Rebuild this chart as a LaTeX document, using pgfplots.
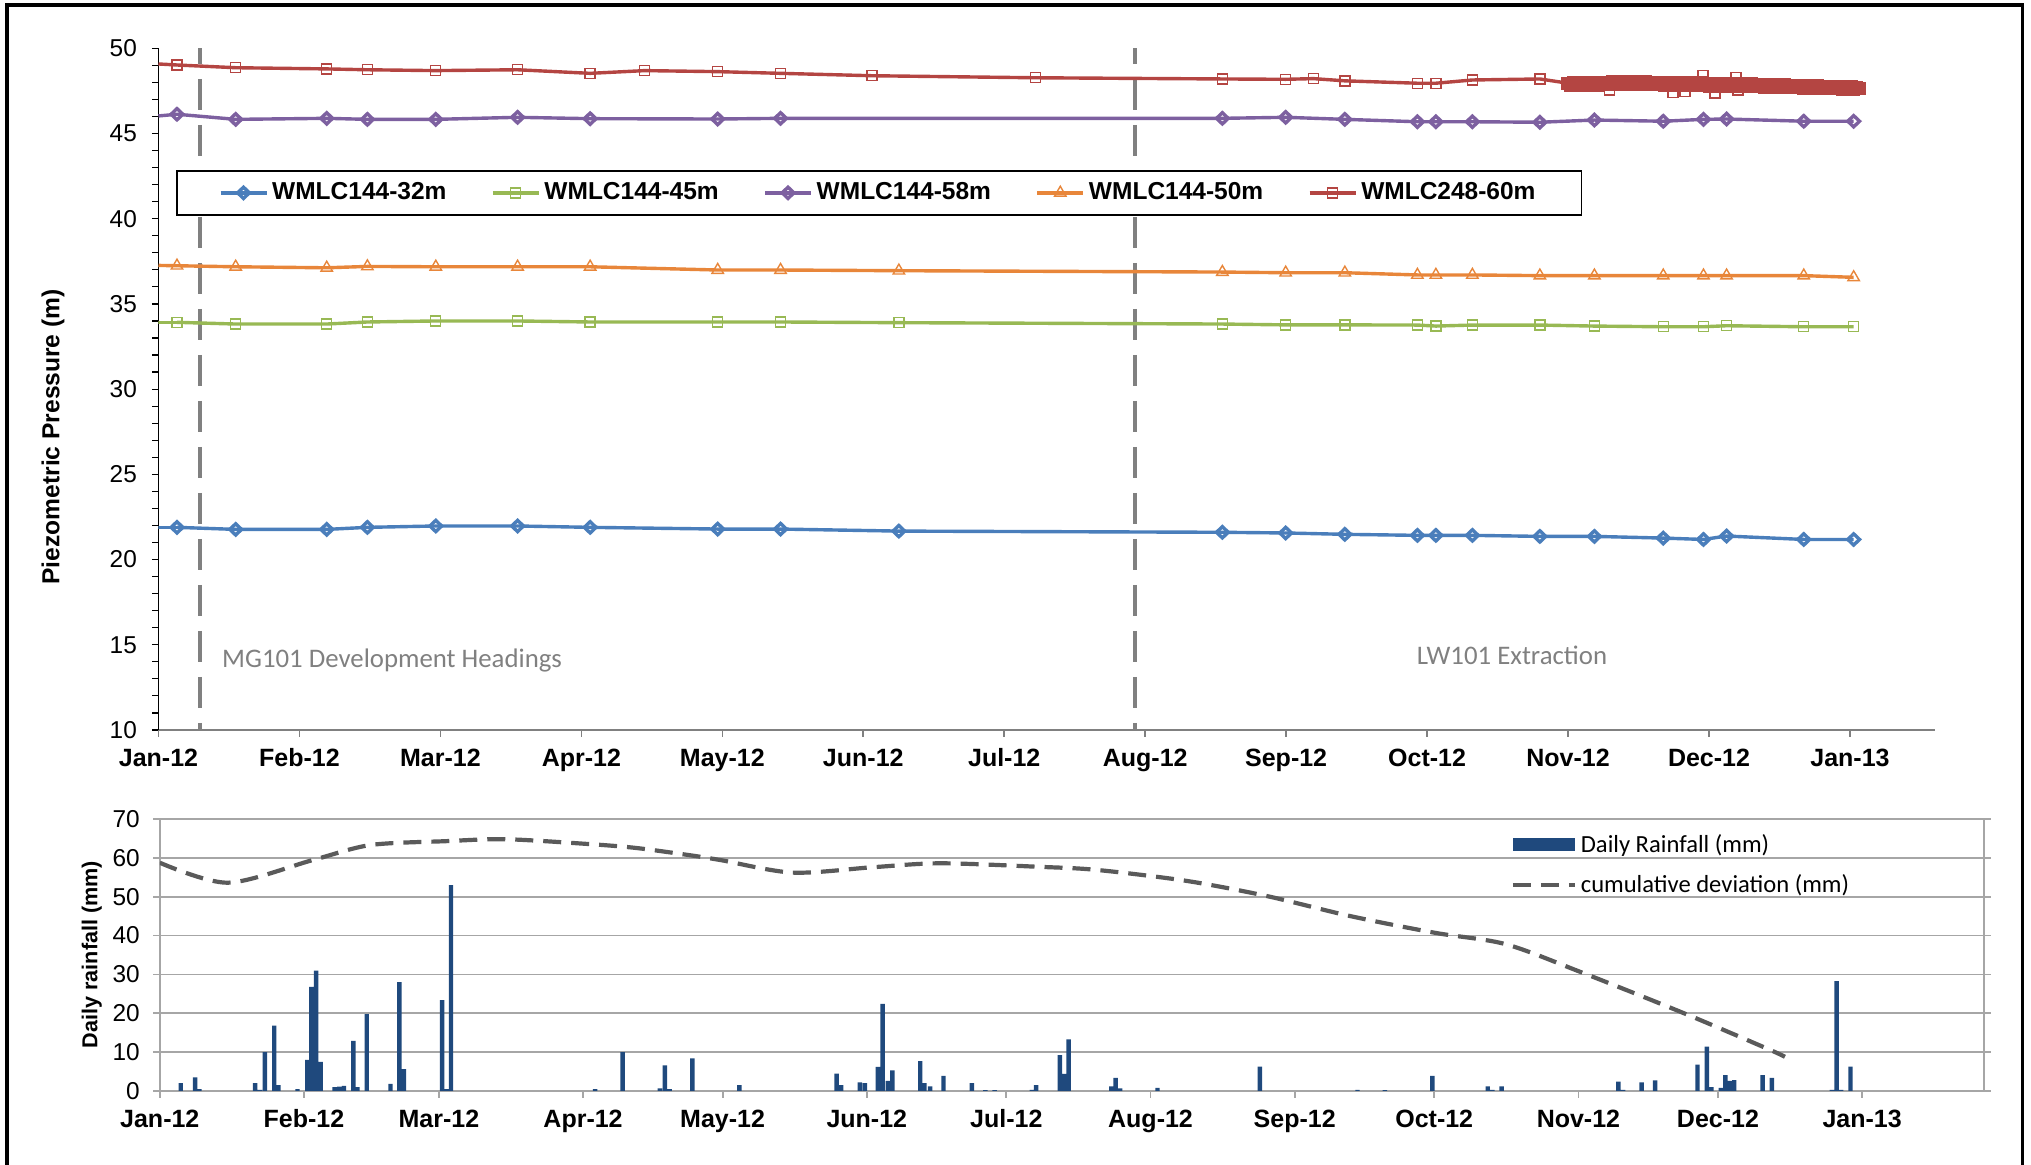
\documentclass[border=0pt]{standalone}
\usepackage{pgfplots}
\pgfplotsset{compat=1.18}
\usepackage{fontspec}
\setmainfont{Liberation Sans}
\newfontfamily\carlito{Carlito}
\definecolor{cblue}{HTML}{4A7EBB}
\definecolor{cgreen}{HTML}{98B954}
\definecolor{cpurple}{HTML}{7D60A0}
\definecolor{corange}{HTML}{E8863A}
\definecolor{cred}{HTML}{B44542}
\definecolor{rain}{HTML}{1F497D}
\definecolor{dev}{HTML}{5A5A5A}
\definecolor{vline}{HTML}{808080}
\definecolor{gridc}{HTML}{A6A6A6}
\definecolor{anno}{HTML}{808080}
\pgfplotsset{
  lineleg/.style={legend image code/.code={\draw[mark repeat=2,mark phase=2] plot coordinates {(0pt,0pt) (11.5pt,0pt) (23pt,0pt)};}},
  ser/.style={line width=1.7pt, mark options={fill=white, solid, line width=0.7pt}, lineleg},
}
\begin{document}
\begin{tikzpicture}
\path[use as bounding box] (0,0) rectangle (1015.5pt,582.5pt);
\draw[line width=1.8pt] (3.35pt,-5pt) -- (3.35pt,580pt) -- (1011.3pt,580pt) -- (1011.3pt,-5pt);
% ---------------- top axis ----------------
\begin{axis}[
  at={(79.25pt,217.5pt)}, anchor=south west,
  scale only axis, width=888.25pt, height=340.85pt,
  xmin=0, xmax=384.4, ymin=10, ymax=50,
  axis x line*=bottom, axis y line*=left,
  x axis line style={draw=gray, line width=1pt},
  y axis line style={draw=black, line width=0.6pt},
  xtick={0,30.5,61,91.5,122,152.5,183,213.5,244,274.5,305,335.5,366},
  xticklabels={Jan-12,Feb-12,Mar-12,Apr-12,May-12,Jun-12,Jul-12,Aug-12,Sep-12,Oct-12,Nov-12,Dec-12,Jan-13},
  ytick={10,15,...,50},
  minor y tick num=4,
  tick align=outside, xtick pos=bottom, ytick pos=left,
  major tick length=3.3pt, minor tick length=3pt,
  x tick style={draw=gray, line width=0.8pt},
  y tick style={draw=black, line width=0.6pt},
  minor y tick style={draw=black, line width=0.6pt},
  /pgf/number format/assume math mode=true,
  yticklabel style={font=\fontsize{12.2}{14}\selectfont, xshift=-4pt},
  xticklabel style={font=\bfseries\fontsize{12.5}{14}\selectfont, yshift=-2.5pt},
  ylabel={Piezometric Pressure (m)},
  ylabel style={at={(axis description cs:-0.0594,0.43)}, anchor=center, font=\bfseries\fontsize{12.3}{14}\selectfont},
  legend columns=5,
  legend cell align=left,
  legend style={at={(rel axis cs:0.00985,0.8215)}, anchor=north west, draw=black, line width=0.8pt,
    font=\bfseries\fontsize{12.25}{14}\selectfont, inner xsep=21pt, inner ysep=4pt,
    nodes={inner sep=2pt},
    /tikz/every even column/.append style={column sep=20.3pt}},
]
% vertical dashed lines
\addplot[forget plot, vline, line width=2pt, dash pattern=on 15.5pt off 7.5pt, dash phase=7.7pt] coordinates {(8.9,50) (8.9,10)};
\addplot[forget plot, vline, line width=2pt, dash pattern=on 15.5pt off 7.5pt, dash phase=7.7pt] coordinates {(211.4,50) (211.4,10)};
% start segments
\addplot[forget plot, cblue, line width=1.7pt] coordinates {(0,21.89) (4.0,21.89)};
\addplot[forget plot, cgreen, line width=1.7pt] coordinates {(0,33.92) (4.0,33.92)};
\addplot[forget plot, cpurple, line width=1.7pt] coordinates {(0,46.03) (4.0,46.13)};
\addplot[forget plot, corange, line width=1.7pt] coordinates {(0,37.26) (4.0,37.24)};
\addplot[forget plot, cred, line width=1.7pt] coordinates {(0,49.08) (4.0,49.02)};
% series
\addplot[ser, cblue, mark=diamond, mark size=2.8pt, mark options={xscale=1.4}] coordinates {
(4.0,21.89)(16.7,21.77)(36.4,21.77)(45.2,21.89)(60.0,21.97)(77.7,21.97)(93.4,21.89)(121.0,21.79)(134.6,21.79)(160.2,21.67)(230.2,21.60)(243.9,21.56)(256.7,21.48)(272.4,21.42)(276.4,21.42)(284.3,21.42)(298.9,21.36)(310.7,21.36)(325.6,21.26)(334.3,21.18)(339.3,21.38)(356.0,21.18)(366.8,21.18)};
\addlegendentry{WMLC144-32m}
\addplot[ser, cgreen, mark=square, mark size=2.5pt] coordinates {
(4.0,33.92)(16.7,33.82)(36.4,33.82)(45.2,33.94)(60.0,34.0)(77.7,34.0)(93.4,33.94)(121.0,33.94)(134.6,33.94)(160.2,33.90)(230.2,33.82)(243.9,33.77)(256.7,33.77)(272.4,33.76)(276.4,33.70)(284.3,33.76)(298.9,33.76)(310.7,33.70)(325.6,33.66)(334.3,33.66)(339.3,33.72)(356.0,33.66)(366.8,33.66)};
\addlegendentry{WMLC144-45m}
\addplot[ser, cpurple, mark=diamond, mark size=2.8pt, mark options={xscale=1.4}] coordinates {
(4.0,46.13)(16.7,45.83)(36.4,45.89)(45.2,45.83)(60.0,45.83)(77.7,45.95)(93.4,45.87)(121.0,45.85)(134.6,45.89)(230.2,45.89)(243.9,45.95)(256.7,45.83)(272.4,45.69)(276.4,45.69)(284.3,45.69)(298.9,45.66)(310.7,45.79)(325.6,45.72)(334.3,45.83)(339.3,45.85)(356.0,45.72)(366.8,45.72)};
\addlegendentry{WMLC144-58m}
\addplot[ser, corange, mark=triangle, mark size=3.3pt] coordinates {
(4.0,37.24)(16.7,37.18)(36.4,37.12)(45.2,37.20)(60.0,37.18)(77.7,37.18)(93.4,37.18)(121.0,36.99)(134.6,36.99)(160.2,36.95)(230.2,36.87)(243.9,36.83)(256.7,36.83)(272.4,36.70)(276.4,36.70)(284.3,36.70)(298.9,36.66)(310.7,36.66)(325.6,36.66)(334.3,36.66)(339.3,36.66)(356.0,36.66)(366.8,36.56)};
\addlegendentry{WMLC144-50m}
\addplot[ser, cred, mark=square, mark size=2.5pt] coordinates {
(4.0,49.02)(16.7,48.86)(36.4,48.79)(45.2,48.74)(60.0,48.69)(77.7,48.74)(93.4,48.53)(105.2,48.69)(121.0,48.63)(134.6,48.53)(154.4,48.39)(189.8,48.27)(230.2,48.20)(243.9,48.18)(249.9,48.22)(256.7,48.09)(272.4,47.95)(276.4,47.95)(284.3,48.14)(298.9,48.20)(305.0,47.95)};
\addlegendentry{WMLC248-60m}
% red outliers within the dense record (drawn beneath the band)
\addplot[forget plot, only marks, cred, mark=square, mark size=2.5pt, mark options={fill=white, line width=0.7pt}] coordinates {
(314.0,47.55)(327.7,47.40)(330.3,47.45)(334.2,48.40)(336.8,47.38)(341.3,48.30)(341.8,47.55)};
% dense red record
\addplot[forget plot, cred, line width=1.7pt, mark=square*, mark size=2.5pt, mark options={fill=cred, draw=cred}] coordinates {
(305.0,47.95)(305.6,47.84)(306.2,47.97)(306.8,47.83)(307.4,47.96)(308.0,47.85)(308.6,47.98)(309.2,47.84)(309.8,47.95)(310.4,47.86)(311.0,47.97)(311.6,47.85)(312.2,47.99)(312.8,47.86)(313.4,48.00)(314.0,47.88)(314.6,48.02)(315.2,47.89)(315.8,48.03)(316.4,47.90)(317.0,48.02)(317.6,47.91)(318.2,48.04)(318.8,47.90)(319.4,48.03)(320.0,47.92)(320.6,48.05)(321.2,47.90)(321.8,48.02)(322.4,47.88)(323.0,48.00)(323.6,47.87)(324.2,47.99)(324.8,47.86)(325.4,47.98)(326.0,47.84)(326.6,47.97)(327.2,47.83)(327.8,47.96)(328.4,47.82)(329.0,47.97)(329.6,47.81)(330.2,47.95)(330.8,47.82)(331.4,47.96)(332.0,47.80)(332.6,47.97)(333.2,47.82)(333.8,48.00)(334.4,47.83)(335.0,47.95)(335.6,47.78)(336.2,47.92)(336.8,47.76)(337.4,47.93)(338.0,47.79)(338.6,47.94)(339.2,47.78)(339.8,47.92)(340.4,47.77)(341.0,47.93)(341.6,47.76)(342.2,47.92)(342.8,47.78)(343.4,47.91)(344.0,47.77)(344.6,47.90)(345.2,47.76)(345.8,47.89)(346.4,47.75)(347.0,47.88)(347.6,47.74)(348.2,47.87)(348.8,47.73)(349.4,47.86)(350.0,47.72)(350.6,47.85)(351.2,47.72)(351.8,47.84)(352.4,47.71)(353.0,47.83)(353.6,47.70)(354.2,47.82)(354.8,47.69)(355.4,47.81)(356.0,47.68)(356.6,47.80)(357.2,47.67)(357.8,47.79)(358.4,47.66)(359.0,47.78)(359.6,47.65)(360.2,47.77)(360.8,47.64)(361.4,47.76)(362.0,47.64)(362.6,47.75)(363.2,47.63)(363.8,47.74)(364.4,47.62)(365.0,47.73)(365.6,47.62)(366.2,47.72)(366.8,47.61)(367.4,47.70)(368.0,47.64)};
\node[anchor=west, inner sep=0pt, text=anno, font=\carlito\fontsize{13.4}{16}\selectfont] at (axis cs:13.7,14.1) {MG101 Development Headings};
\node[anchor=west, inner sep=0pt, text=anno, font=\carlito\fontsize{13.4}{16}\selectfont] at (axis cs:272.2,14.4) {LW101 Extraction};
\end{axis}
% ---------------- bottom axis ----------------
\begin{axis}[
  at={(79.9pt,37pt)}, anchor=south west,
  scale only axis, width=912.1pt, height=136pt,
  xmin=0, xmax=392.2, ymin=0, ymax=70,
  axis line style={draw=gridc, line width=1pt},
  ymajorgrids, grid style={draw=gridc, line width=0.9pt},
  xtick={0,31,60,91,121,152,182,213,244,274,305,335,366},
  xticklabels={Jan-12,Feb-12,Mar-12,Apr-12,May-12,Jun-12,Jul-12,Aug-12,Sep-12,Oct-12,Nov-12,Dec-12,Jan-13},
  ytick={0,10,...,70},
  tick align=outside, xtick pos=bottom, ytick pos=both, yticklabel pos=left,
  major tick length=3.3pt,
  tick style={draw=gridc, line width=0.9pt},
  /pgf/number format/assume math mode=true,
  yticklabel style={font=\fontsize{12.2}{14}\selectfont, xshift=-3.2pt},
  xticklabel style={font=\bfseries\fontsize{12.5}{14}\selectfont, yshift=-2.5pt},
  ylabel={Daily rainfall (mm)},
  ylabel style={at={(axis description cs:-0.0373,0.502)}, anchor=center, font=\bfseries\fontsize{10.8}{13}\selectfont},
  legend cell align=left,
  legend style={at={(rel axis cs:0.737,0.975)}, anchor=north west, draw=none, fill=none,
    font=\carlito\fontsize{12.3}{14}\selectfont, nodes={inner sep=2pt}, row sep=5.6pt},
]
\addplot[ybar, bar width=0.95, fill=rain, draw=none,
  legend image code/.code={\fill[rain] (0pt,-3.25pt) rectangle (31pt,3.25pt);}] coordinates {
(4.5,2.0)(7.6,3.5)(8.5,0.5)(20.5,2.0)(21.5,0.3)(22.6,10.0)(24.6,16.8)(25.5,1.5)(29.6,0.5)(31.7,8.0)(32.6,26.8)(33.6,31.0)(34.6,7.5)(37.6,1.0)(38.6,1.1)(39.6,1.3)(41.6,12.9)(42.5,1.0)(44.5,19.8)(49.6,1.8)(51.5,28.0)(52.5,5.6)(60.7,23.4)(61.6,0.5)(62.6,53.0)(93.6,0.5)(99.5,10.0)(107.5,0.7)(108.6,6.6)(109.6,0.5)(114.5,8.4)(124.6,1.5)(145.5,4.5)(146.5,1.5)(150.5,2.2)(151.6,2.0)(154.4,6.2)(155.4,22.4)(156.5,2.6)(157.5,5.3)(163.5,7.7)(164.4,2.0)(165.6,1.2)(168.5,3.9)(174.6,2.0)(177.5,0.2)(179.5,0.2)(187.5,0.3)(188.4,1.5)(193.5,9.2)(194.4,4.4)(195.4,13.3)(204.6,1.2)(205.5,3.4)(206.5,0.7)(214.5,0.8)(236.5,6.3)(257.5,0.3)(263.4,0.2)(273.6,3.9)(285.5,1.2)(286.5,0.3)(288.5,1.2)(313.6,2.4)(314.6,0.3)(318.6,2.2)(321.5,2.7)(330.6,6.8)(332.6,11.4)(333.6,1.0)(335.6,0.8)(336.6,4.1)(337.5,2.6)(338.5,2.8)(344.6,4.1)(346.6,3.4)(359.5,0.3)(360.5,28.3)(361.5,0.3)(363.5,6.3)};
\addlegendentry{Daily Rainfall (mm)}
\addplot[dev, line width=2.1pt, dash pattern=on 9pt off 5pt, smooth,
  legend image code/.code={\draw[dev, line width=2.1pt, dash pattern=on 9pt off 5pt] (0pt,0pt) -- (31pt,0pt);}] coordinates {
(0,58.75)(14.6,53.6)(32.8,59.4)(45.3,63.3)(61.6,64.3)(74.1,64.8)(90.4,63.7)(102,62.6)(114.4,60.6)(120.7,59.4)(136.1,56.2)(153.4,57.6)(167.8,58.6)(188.9,57.7)(201.4,56.9)(220.6,54.1)(237.9,50.2)(256,45.0)(274.2,40.7)(289.3,37.8)(305.3,30.7)(327.3,20.2)(345.4,11.0)(349.4,8.8)};
\addlegendentry{cumulative deviation (mm)}
\end{axis}
\end{tikzpicture}
\end{document}
